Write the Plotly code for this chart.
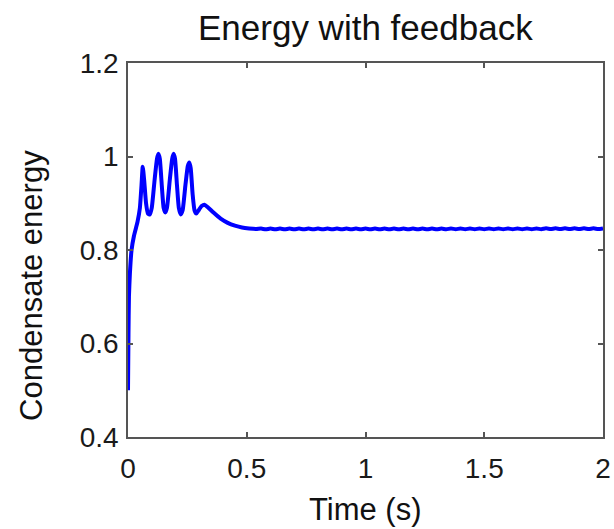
import plotly.graph_objects as go

# Transient: fast rise, four feedback oscillations, then decay to steady state
t_transient = [
    0.000, 0.002, 0.004, 0.008, 0.015, 0.025, 0.040, 0.050, 0.057, 0.062,
    0.068, 0.076, 0.084, 0.092, 0.100, 0.112, 0.122, 0.128, 0.134, 0.142,
    0.150, 0.157, 0.164, 0.176, 0.186, 0.192, 0.198, 0.206, 0.214, 0.222,
    0.230, 0.242, 0.252, 0.258, 0.264, 0.272, 0.280, 0.288, 0.296, 0.310,
    0.322, 0.335, 0.360, 0.390, 0.420, 0.450, 0.480, 0.510, 0.540,
]
e_transient = [
    0.500, 0.620, 0.700, 0.750, 0.800, 0.830, 0.860, 0.890, 0.940, 0.978,
    0.950, 0.900, 0.878, 0.876, 0.890, 0.950, 0.995, 1.006, 0.995, 0.940,
    0.890, 0.880, 0.890, 0.950, 0.995, 1.006, 0.995, 0.940, 0.890, 0.876,
    0.885, 0.940, 0.980, 0.987, 0.975, 0.920, 0.885, 0.878, 0.884, 0.894,
    0.897, 0.892, 0.880, 0.867, 0.858, 0.852, 0.848, 0.846, 0.845,
]

# Steady state with a small residual ripple
t_steady = [
    0.56, 0.58, 0.60, 0.62, 0.64, 0.66, 0.68, 0.70, 0.72, 0.74,
    0.76, 0.78, 0.80, 0.82, 0.84, 0.86, 0.88, 0.90, 0.92, 0.94,
    0.96, 0.98, 1.00, 1.02, 1.04, 1.06, 1.08, 1.10, 1.12, 1.14,
    1.16, 1.18, 1.20, 1.22, 1.24, 1.26, 1.28, 1.30, 1.32, 1.34,
    1.36, 1.38, 1.40, 1.42, 1.44, 1.46, 1.48, 1.50, 1.52, 1.54,
    1.56, 1.58, 1.60, 1.62, 1.64, 1.66, 1.68, 1.70, 1.72, 1.74,
    1.76, 1.78, 1.80, 1.82, 1.84, 1.86, 1.88, 1.90, 1.92, 1.94,
    1.96, 1.98, 2.00,
]
e_steady = [
    0.8458, 0.8442, 0.8458, 0.8442, 0.8458, 0.8442, 0.8458, 0.8442, 0.8458, 0.8442,
    0.8458, 0.8442, 0.8458, 0.8442, 0.8458, 0.8442, 0.8458, 0.8442, 0.8458, 0.8442,
    0.8458, 0.8442, 0.8458, 0.8442, 0.8458, 0.8442, 0.8458, 0.8442, 0.8458, 0.8442,
    0.8458, 0.8442, 0.8458, 0.8442, 0.8458, 0.8442, 0.8458, 0.8442, 0.8458, 0.8442,
    0.8460, 0.8444, 0.8460, 0.8444, 0.8460, 0.8444, 0.8460, 0.8444, 0.8460, 0.8444,
    0.8460, 0.8444, 0.8460, 0.8444, 0.8460, 0.8444, 0.8460, 0.8444, 0.8460, 0.8444,
    0.8463, 0.8447, 0.8463, 0.8447, 0.8463, 0.8447, 0.8463, 0.8447, 0.8463, 0.8447,
    0.8463, 0.8447, 0.8463,
]

x_ticks = [0, 0.5, 1, 1.5, 2]
x_tick_labels = ["0", "0.5", "1", "1.5", "2"]
y_ticks = [0.4, 0.6, 0.8, 1.0, 1.2]
y_tick_labels = ["0.4", "0.6", "0.8", "1", "1.2"]

FONT = "Liberation Sans, Arial, Helvetica, sans-serif"

fig = go.Figure()
fig.add_trace(go.Scatter(
    x=t_transient + t_steady,
    y=e_transient + e_steady,
    mode="lines",
    line=dict(color="#0000FF", width=4, shape="spline", smoothing=0.5),
    hoverinfo="skip",
    cliponaxis=True,
))

axis_common = dict(
    showline=True,
    linecolor="#555555",
    linewidth=1.5,
    mirror="ticks",
    ticks="inside",
    ticklen=5,
    tickwidth=1.5,
    tickcolor="#555555",
    showgrid=False,
    zeroline=False,
    automargin=False,
    tickfont=dict(family=FONT, size=28, color="#1a1a1a"),
)

fig.update_xaxes(
    range=[0, 2],
    tickmode="array",
    tickvals=x_ticks,
    ticktext=x_tick_labels,
    ticklabelstandoff=6,
    **axis_common,
)
fig.update_yaxes(
    range=[0.4, 1.2],
    tickmode="array",
    tickvals=y_ticks,
    ticktext=y_tick_labels,
    ticklabelstandoff=2,
    **axis_common,
)

fig.update_layout(
    width=614,
    height=529,
    margin=dict(l=128, r=11, t=63, b=92),
    paper_bgcolor="white",
    plot_bgcolor="white",
    showlegend=False,
    annotations=[
        dict(text="Energy with feedback", x=0.5, y=1.094, xref="paper", yref="paper",
             showarrow=False, xanchor="center", yanchor="middle",
             font=dict(family=FONT, size=35, color="#111111")),
        dict(text="Time (s)", x=0.5, y=-0.195, xref="paper", yref="paper",
             showarrow=False, xanchor="center", yanchor="middle",
             font=dict(family=FONT, size=31, color="#111111")),
        dict(text="Condensate energy", x=-0.202, y=0.404, xref="paper", yref="paper",
             showarrow=False, xanchor="center", yanchor="middle", textangle=-90,
             font=dict(family=FONT, size=31, color="#111111")),
    ],
)

fig.write_html("out.html")
